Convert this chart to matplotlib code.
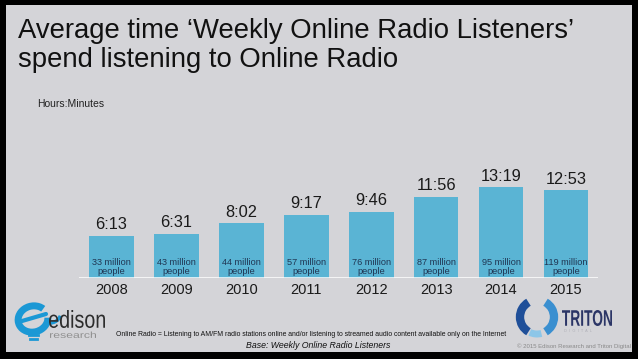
import matplotlib
matplotlib.use("Agg")
import matplotlib.pyplot as plt
from matplotlib.patches import Rectangle, Arc, PathPatch
from matplotlib.textpath import TextPath
from matplotlib.font_manager import FontProperties
from matplotlib.transforms import Affine2D

# data
years = ["2008", "2009", "2010", "2011", "2012", "2013", "2014", "2015"]
time_labels = ["6:13", "6:31", "8:02", "9:17", "9:46", "11:56", "13:19", "12:53"]
listeners = ["33 million", "43 million", "44 million", "57 million",
             "76 million", "87 million", "95 million", "119 million"]

def to_hours(s):
    h, m = s.split(":")
    return int(h) + int(m) / 60

hours = [to_hours(s) for s in time_labels]

W, H = 638, 359
bg = "#d4d4d8"
bar_col = "#5ab4d4"
navy = "#1f3552"
font = "Liberation Sans"

fig = plt.figure(figsize=(W / 100, H / 100), dpi=100, facecolor="black")

# overlay in pixel coords (slide background, titles, logos, notes)
ov = fig.add_axes([0, 0, 1, 1])
ov.set_xlim(0, W)
ov.set_ylim(H, 0)
ov.axis("off")
ov.add_patch(Rectangle((6, 5), 626, 347, facecolor=bg, edgecolor="none"))


def squeezed_text(s, x0, base, width, height, color, weight="normal"):
    # text drawn as a path, fitted to a pixel box (for condensed logo type)
    tp = TextPath((0, 0), s, size=1, prop=FontProperties(family=font, weight=weight))
    ext = tp.get_extents()
    sx = width / ext.width
    sy = height / ext.height
    tr = Affine2D().translate(-ext.x0, -ext.y0).scale(sx, -sy).translate(x0, base)
    ov.add_patch(PathPatch(tr.transform_path(tp), facecolor=color, edgecolor="none"))


ov.text(18, 38, "Average time \u2018Weekly Online Radio Listeners\u2019",
        fontsize=19.8, family=font, color="#111111", va="baseline")
ov.text(18, 67, "spend listening to Online Radio",
        fontsize=19.8, family=font, color="#111111", va="baseline")
ov.text(37, 104, "Hours:Minutes", fontsize=7.5, family=font, color="#222222",
        va="center")

# chart
ax = fig.add_axes([79 / W, 81 / H, 519.4 / W, 102 / H])
ax.set_facecolor("none")
x = range(len(years))
ax.bar(x, hours, width=0.69, color=bar_col)
ax.axhline(0, color="white", lw=1.8)
ax.set_xlim(-0.5, 7.5)
ax.set_ylim(0, 15)
ax.axis("off")

for i, (h, lab, n) in enumerate(zip(hours, time_labels, listeners)):
    ax.annotate(lab, (i, h), xytext=(0, 2.5), textcoords="offset points",
                ha="center", va="bottom", fontsize=11.8, family=font,
                color="#1a1a1a")
    ax.text(i, 1.65, n + "\npeople", ha="center", va="center", fontsize=6.6,
            family=font, color=navy, linespacing=1.0)
    ax.annotate(years[i], (i, 0), xytext=(0, -8.5), textcoords="offset points",
                ha="center", va="center", fontsize=10.5, family=font,
                color="#1a1a1a")

# edison logo
eblue = "#1b98d5"
ov.add_patch(Arc((33, 319), 30, 26, angle=-15, theta1=10, theta2=330,
                 color=eblue, lw=5))
ov.plot([22, 46], [321, 314], color=eblue, lw=3, solid_capstyle="round")
ov.add_patch(Arc((50, 312), 22, 22, theta1=20, theta2=110, color=eblue, lw=2.5))
ov.plot([29, 38], [335, 335], color=eblue, lw=2)
ov.plot([30, 37], [339, 339], color=eblue, lw=2)
squeezed_text("edison", 49, 328, 56, 18, "#2d2d2d")
squeezed_text("research", 50, 338, 46, 6.5, "#8f8f8f")

# triton logo
ov.add_patch(Arc((537, 317), 34, 34, theta1=120, theta2=240,
                 color="#1f4f99", lw=6))
ov.add_patch(Arc((537, 317), 34, 34, theta1=-60, theta2=60,
                 color="#3a8fd0", lw=6))
ov.add_patch(Arc((537, 317), 34, 34, theta1=75, theta2=115,
                 color="#8cc6e8", lw=5))
squeezed_text("TRITON", 562, 326, 50, 16, "#2b3566", weight="bold")
ov.text(564, 332, "D  I  G  I  T  A  L", fontsize=2.8, family=font,
        color="#b0b0b8", va="baseline")

# notes
ov.text(116, 335, "Online Radio = Listening to AM/FM radio stations online and/or "
        "listening to streamed audio content available only on the Internet",
        fontsize=4.95, family=font, color="#111111", va="center")
ov.text(318, 346, "Base: Weekly Online Radio Listeners", fontsize=6.3,
        family=font, style="italic", color="#111111", ha="center", va="center")
ov.text(631, 346, "\u00a9 2015 Edison Research and Triton Digital", fontsize=4.35,
        family=font, color="#8a8a8a", ha="right", va="center")

fig.savefig("out.png", dpi=100, facecolor="black")
